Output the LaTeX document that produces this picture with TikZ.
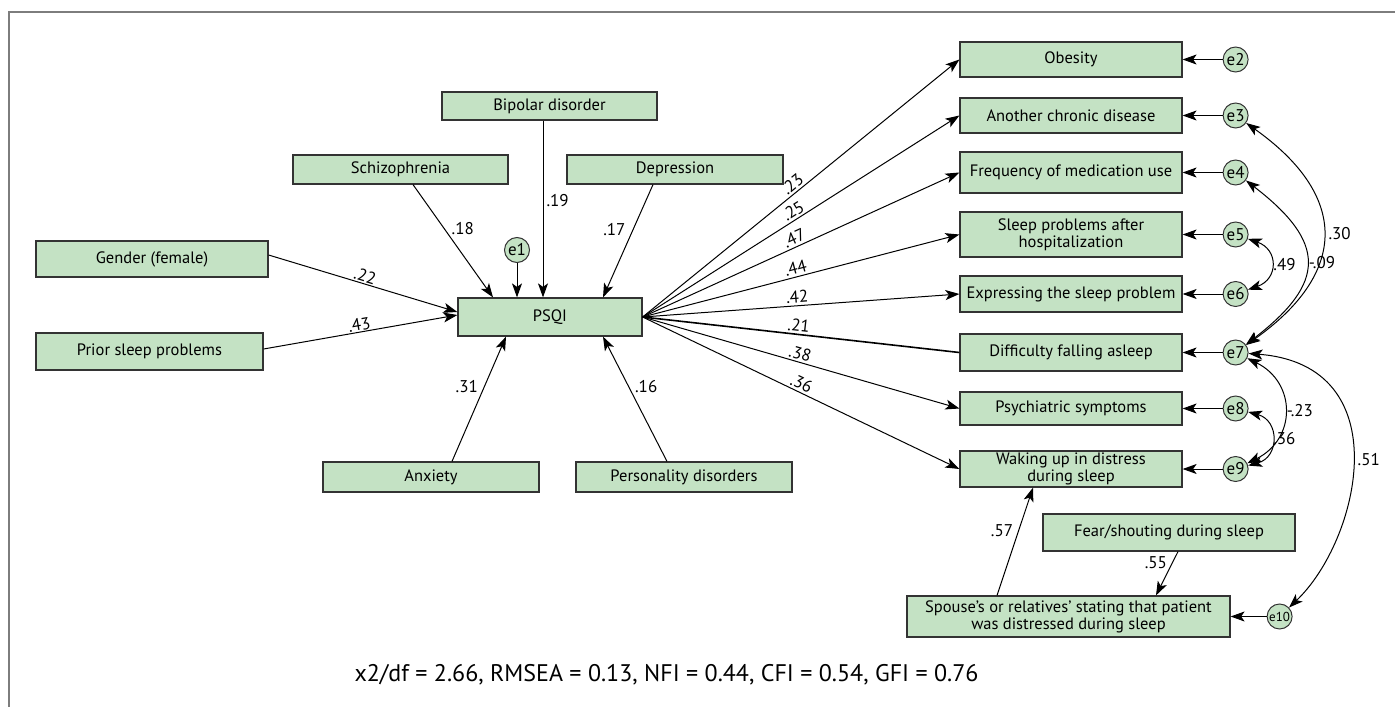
\documentclass[tikz,border=0pt]{standalone}
\usepackage{fontspec}
\setmainfont{PT Sans}
\usepackage{tikz}
\usetikzlibrary{arrows.meta, positioning}

\definecolor{boxgreen}{RGB}{196,226,196}
\definecolor{framegray}{RGB}{125,125,125}

\begin{document}
\begin{tikzpicture}[x=1pt,y=-1pt,
                    >={Stealth[length=14pt,width=10pt,inset=3.5pt]},
                    var node/.style={rectangle,draw=black!80,line width=1.2pt,fill=boxgreen,inner sep=0pt,align=center,font=\fontsize{16.5}{17}\selectfont},
                    err node/.style={circle,draw=black!80,line width=1pt,fill=boxgreen,minimum size=25pt,inner sep=0pt,font=\fontsize{17}{17}\selectfont},
                    link/.style={->,line width=1pt},
                    cov/.style={<->,line width=1pt},
                    coef/.style={inner sep=1pt,font=\fontsize{17}{17}\selectfont}]

  \useasboundingbox (0,0) rectangle (1395,707);
  \draw[framegray,line width=1.3pt] (1395,12) -- (9,12) -- (9,707);

  % predictors of PSQI
  \node[var node,minimum width=184pt,minimum height=38pt] (psqi) at (550,317) {PSQI};
  \node[var node,minimum width=215pt,minimum height=28pt] (bip) at (549.5,106) {Bipolar disorder};
  \node[var node,minimum width=215pt,minimum height=29pt] (schiz) at (400.5,169.5) {Schizophrenia};
  \node[var node,minimum width=216pt,minimum height=29pt] (dep) at (675,169.5) {Depression};
  \node[var node,minimum width=232pt,minimum height=36pt] (gender) at (152,259) {Gender (female)};
  \node[var node,minimum width=227pt,minimum height=37pt] (prior) at (149.5,351.5) {Prior sleep problems};
  \node[var node,minimum width=216pt,minimum height=30pt] (anx) at (431,477) {Anxiety};
  \node[var node,minimum width=216pt,minimum height=30pt] (pers) at (684,477) {Personality disorders};
  \node[err node] (e1) at (517,250) {e1};

  % outcomes
  \node[var node,minimum width=222pt,minimum height=35pt] (obes) at (1071,59.5) {Obesity};
  \node[var node,minimum width=222pt,minimum height=35pt] (chron) at (1071,115.5) {Another chronic disease};
  \node[var node,minimum width=222pt,minimum height=41pt] (freq) at (1071,172.5) {Frequency of medication use};
  \node[var node,minimum width=222pt,minimum height=45pt] (hosp) at (1071,234.5) {Sleep problems after\\hospitalization};
  \node[var node,minimum width=222pt,minimum height=36pt] (expr) at (1071,294) {Expressing the sleep problem};
  \node[var node,minimum width=222pt,minimum height=37pt] (diff) at (1071,352.5) {Difficulty falling asleep};
  \node[var node,minimum width=222pt,minimum height=33pt] (psych) at (1071,408.5) {Psychiatric symptoms};
  \node[var node,minimum width=222pt,minimum height=36pt] (wake) at (1071,469) {Waking up in distress\\during sleep};
  \node[var node,minimum width=252pt,minimum height=37pt] (fear) at (1169,532.5) {Fear/shouting during sleep};
  \node[var node,minimum width=323pt,minimum height=41pt] (spouse) at (1068.5,616.5) {Spouse’s or relatives’ stating that patient\\was distressed during sleep};

  \node[err node] (e2) [right=40pt of obes] {e2};
  \node[err node] (e3) [right=40pt of chron] {e3};
  \node[err node] (e4) [right=40pt of freq] {e4};
  \node[err node] (e5) [right=40pt of hosp] {e5};
  \node[err node] (e6) [right=40pt of expr] {e6};
  \node[err node] (e7) [right=40pt of diff] {e7};
  \node[err node] (e8) [right=40pt of psych] {e8};
  \node[err node] (e9) [right=40pt of wake] {e9};
  \node[err node,font=\fontsize{13}{13}\selectfont] (e10) [right=36pt of spouse] {e10};

  \path[link,every node/.style={coef}]
    ([xshift=-6.5pt]bip.south) edge node[pos=.45,right=2pt] {.19} ([xshift=-7pt]psqi.north)
    ([xshift=12.5pt]schiz.south) edge node[pos=.39,right=6pt] {.18} ([xshift=-57pt]psqi.north)
    ([xshift=-22pt]dep.south) edge node[pos=.4,left=6pt] {.17} ([xshift=53pt]psqi.north)
    ([yshift=4pt]gender.east) edge node[pos=.5,sloped,above] {.22} ([yshift=5pt]psqi.west)
    ([yshift=2.5pt]prior.east) edge node[pos=.5,sloped,above] {.43} ([yshift=2pt]psqi.west)
    ([xshift=21pt]anx.north) edge node[pos=.6,left=5pt] {.31} ([xshift=-44pt]psqi.south)
    ([xshift=-17pt]pers.north) edge node[pos=.6,right=5pt] {.16} ([xshift=53pt]psqi.south)
    (e1) edge (e1 |- psqi.north);

  \path[link,every node/.style={coef,sloped,above,pos=.49,inner sep=2pt}]
    (psqi.east) edge node {.23} (obes.west)
                edge node {.25} (chron.west)
                edge node {.47} (freq.west)
                edge node {.44} (hosp.west)
                edge node {.42} (expr.west)
                edge[-,line width=1.6pt] node {.21} (diff.west)
                edge node {.38} (psych.west)
                edge node {.36} (wake.west);

  \path[link,every node/.style={coef}]
    ([xshift=-71.5pt]spouse.north) edge node[pos=.6,left=4pt] {.57} ([xshift=-38pt]wake.south)
    ([xshift=9pt]fear.south) edge node[pos=.25,left=4pt] {.55} ([xshift=87.5pt]spouse.north);

  \path[link]
    (e2) edge (obes)
    (e3) edge (chron)
    (e4) edge (freq)
    (e5) edge (hosp)
    (e6) edge (expr)
    (e7) edge (diff)
    (e8) edge (psych)
    (e9) edge (wake)
    (e10) edge (spouse);

  % correlated errors
  \draw[cov] (e3) .. controls +(113,80) and +(113,-80) .. node[coef,pos=.5,right=4pt] {.30} (e7);
  \draw[cov] (e4) .. controls +(91,70) and +(91,-70) .. node[coef,pos=.5,right=1pt] {-.09} (e7);
  \draw[cov] (e5) .. controls +(43,15) and +(43,-15) .. node[coef,pos=.5,right=1pt] {.49} (e6);
  \draw[cov] (e7) .. controls +(61,30) and +(61,-30) .. node[coef,pos=.5,right=1pt] {-.23} (e9);
  \draw[cov] (e8) .. controls +(44,12) and +(44,-12) .. node[coef,pos=.5,right=0pt] {.36} (e9);
  \draw[cov] (e7) .. controls (1400,365) and (1360,540) .. node[coef,pos=.5,right=4pt] {.51} (e10);

  \node[font=\fontsize{24}{24}\selectfont] (fit) at (666.5,675) {x2/df = 2.66, RMSEA = 0.13, NFI = 0.44, CFI = 0.54, GFI = 0.76};

\end{tikzpicture}
\end{document}
